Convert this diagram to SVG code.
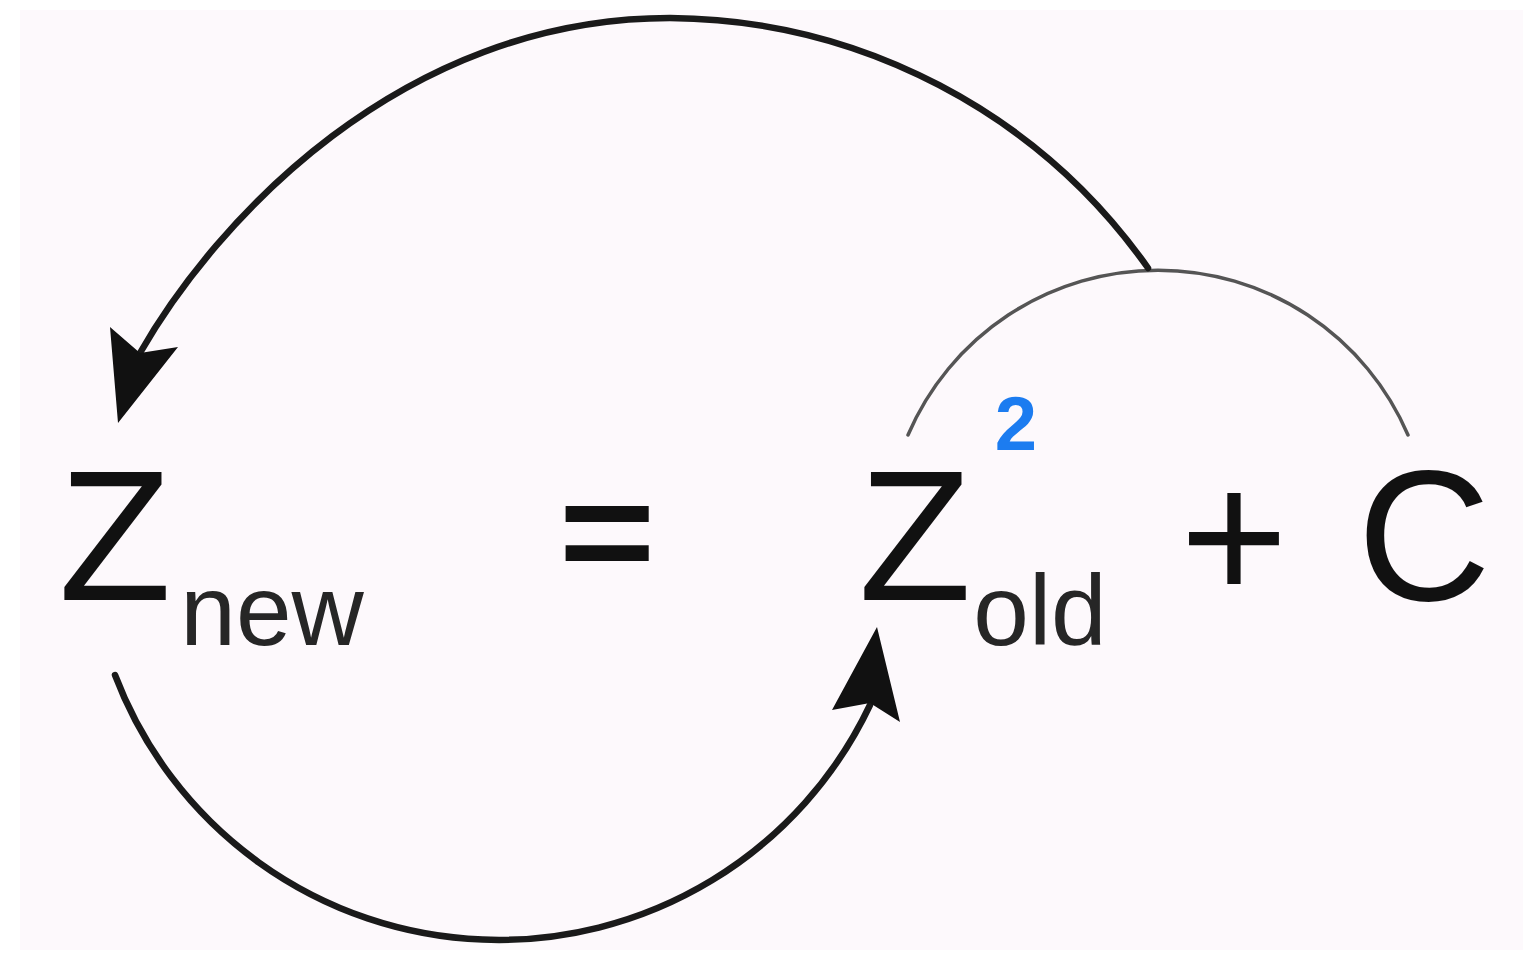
<svg xmlns="http://www.w3.org/2000/svg" width="1523" height="953" viewBox="0 0 1523 953">
<style>
.big{font-family:"Liberation Sans",Arial,sans-serif;font-size:185px;fill:#111;text-anchor:middle}
.eq{font-family:"Liberation Sans",Arial,sans-serif;font-size:180px;font-weight:bold;fill:#111;text-anchor:middle}
.sub{font-family:"Liberation Sans",Arial,sans-serif;font-size:100px;fill:#262626;text-anchor:middle}
.sup{font-family:"Liberation Sans",Arial,sans-serif;font-size:76px;font-weight:bold;fill:#1c7cf0;text-anchor:middle}
.arc{fill:none;stroke:#1a1a1a;stroke-width:6.5;stroke-linecap:round}
.thin{fill:none;stroke:#555;stroke-width:3.5;stroke-linecap:round}
.head{fill:#111;stroke:none}
</style>
<rect x="0" y="0" width="1523" height="953" fill="#ffffff"/>
<rect x="20" y="10" width="1503" height="940" fill="#fdf9fc"/>
<g id="z-new">
<text class="big" x="115" y="600">Z</text>
<text class="sub" x="272" y="645">new</text>
</g>
<g id="equals"><text class="eq" transform="translate(607,582) scale(0.92,0.814)" x="0" y="0">=</text></g>
<g id="z-old">
<text class="big" x="915" y="600">Z</text>
<text class="sub" x="1040" y="645">old</text>
<text class="sup" x="1016" y="450">2</text>
</g>
<g id="plus"><text class="big" x="1234" y="600">+</text></g>
<g id="c"><text class="big" x="1424" y="600">C</text></g>
<g id="connectors">
<path class="thin" d="M908,435 A272,272 0 0 1 1408,435"/>
<path class="arc" d="M1148,268 A590,590 0 0 0 670,18 C400,18 215,222 140,353"/>
<polygon class="head" points="118,423 110,327 140,353 178,347"/>
<path class="arc" d="M115,675 A410.6,410.6 0 0 0 870,705"/>
<polygon class="head" points="877,627 900,722 870,703 832,710"/>
</g>
</svg>
